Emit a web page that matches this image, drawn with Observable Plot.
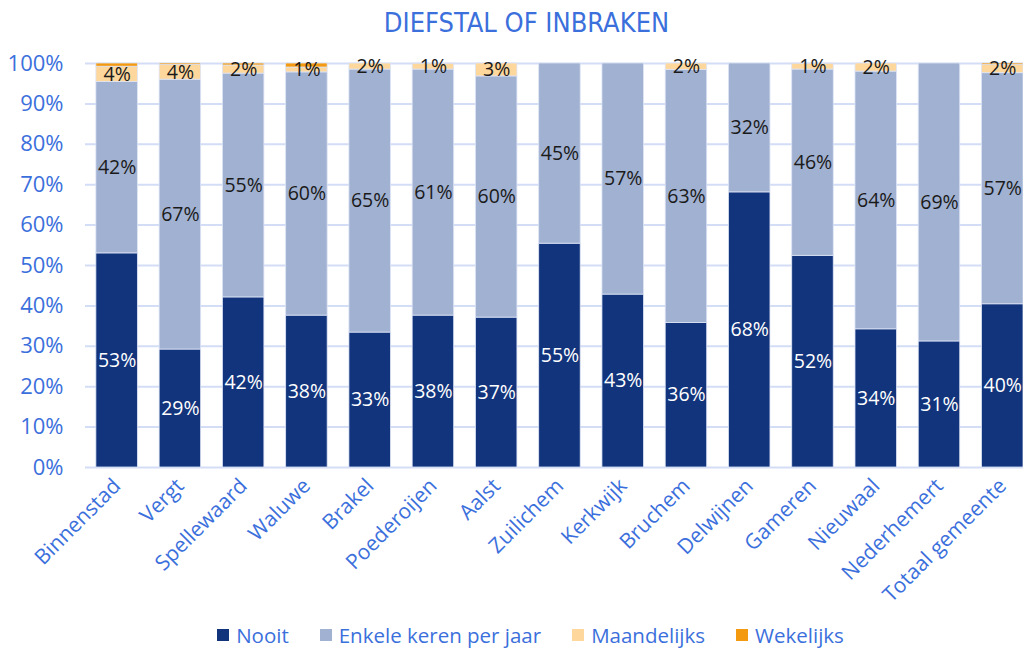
<!DOCTYPE html>
<html>
<head>
<meta charset="utf-8">
<script src="https://cdn.jsdelivr.net/npm/d3@7"></script>
<script src="https://cdn.jsdelivr.net/npm/@observablehq/plot@0.6"></script>
<style>
  html, body { margin: 0; padding: 0; background: #fff; }
  #wrap { width: 1023px; height: 652px; position: relative; overflow: hidden; }
  #title { height: 40px; line-height: 46px; text-align: center; color: #3b70dc; padding-left: 30px;
    font-family: "Liberation Sans Narrow", "DejaVu Sans Condensed", sans-serif; font-size: 27px; }
  #chart svg { display: block; }
  #legend { position: absolute; left: 38px; right: 0; top: 620px; height: 30px;
    display: flex; justify-content: center; align-items: center; gap: 31px;
    font-family: "Open Sans", sans-serif; font-size: 20.5px; line-height: 28px; color: #3b70dc; }
  #legend .item { display: flex; align-items: center; gap: 7px; }
  #legend .sw { width: 12px; height: 12px; display: inline-block; }
</style>
</head>
<body>
<div id="wrap">
  <div id="title">DIEFSTAL OF INBRAKEN</div>
  <div id="chart"></div>
  <div id="legend"></div>
</div>
<script>
const categories = ["Binnenstad", "Vergt", "Spellewaard", "Waluwe", "Brakel", "Poederoijen", "Aalst",
  "Zuilichem", "Kerkwijk", "Bruchem", "Delwijnen", "Gameren", "Nieuwaal", "Nederhemert", "Totaal gemeente"];
const series = ["Nooit", "Enkele keren per jaar", "Maandelijks", "Wekelijks"];
const seriesColors = ["#12347c", "#a1b1d1", "#fdd79c", "#f49a10"];
const nooit       = [53.0, 29.2, 42.1, 37.6, 33.4, 37.6, 37.1, 55.4, 42.8, 35.8, 68.1, 52.4, 34.2, 31.2, 40.4];
const enkele      = [42.4, 66.8, 55.4, 60.2, 65.1, 60.9, 59.7, 44.6, 57.2, 62.6, 31.9, 46.1, 63.8, 68.8, 57.2];
const maandelijks = [3.8, 3.6, 2.0, 1.2, 1.5, 1.4, 3.2, 0, 0, 1.6, 0, 1.4, 2.0, 0, 2.0];
const wekelijks   = [0.8, 0.4, 0.5, 1.0, 0, 0.1, 0, 0, 0, 0, 0, 0.1, 0, 0, 0.4];
const yTicks = [0, 10, 20, 30, 40, 50, 60, 70, 80, 90, 100];
const yTickLabels = ["0%", "10%", "20%", "30%", "40%", "50%", "60%", "70%", "80%", "90%", "100%"];
const labelColors = ["#ffffff", "#1a1a1a", "#1a1a1a", null];

const seriesValues = [nooit, enkele, maandelijks, wekelijks];
const rows = [];
categories.forEach((cat, i) => {
  let base = 0;
  series.forEach((s, k) => {
    const v = seriesValues[k][i];
    rows.push({cat, series: s, k, value: v, y1: base, y2: base + v, mid: base + v / 2});
    base += v;
  });
});
const labelRows = rows.filter(r => labelColors[r.k] && Math.round(r.value) >= 1);

const blue = "#3b70dc";
const font = "'Open Sans', sans-serif";

const chart = Plot.plot({
  width: 1023,
  height: 576,
  marginLeft: 85,
  marginRight: 0,
  marginTop: 23,
  marginBottom: 149,
  style: {fontFamily: font, color: blue, background: "transparent"},
  x: {domain: categories, paddingInner: 0.344, paddingOuter: 0.086, align: 1, round: false, label: null},
  y: {domain: [0, 100], label: null},
  color: {domain: series, range: seriesColors},
  marks: [
    Plot.ruleY(yTicks, {stroke: "#d3ddf6", strokeWidth: 2}),
    Plot.rectY(rows.filter(r => r.value > 0), {x: "cat", y1: "y1", y2: "y2", fill: "series", stroke: "#dde4f6", strokeWidth: 0.8}),
    Plot.text(labelRows, {x: "cat", y: "mid", text: d => Math.round(d.value) + "%",
      fill: d => labelColors[d.k], fontSize: 19.5, fontFamily: font}),
    Plot.axisY({ticks: yTicks, tickFormat: (d) => yTickLabels[yTicks.indexOf(d)], tickSize: 0, tickPadding: 22, fontSize: 22, label: null}),
    Plot.axisX({tickRotate: -45, tickSize: 0, tickPadding: 15, fontSize: 21, label: null})
  ]
});
document.getElementById("chart").appendChild(chart);

const legend = document.getElementById("legend");
series.forEach((s, k) => {
  const item = document.createElement("div");
  item.className = "item";
  const sw = document.createElement("span");
  sw.className = "sw";
  sw.style.background = seriesColors[k];
  const t = document.createElement("span");
  t.textContent = s;
  item.appendChild(sw);
  item.appendChild(t);
  legend.appendChild(item);
});
</script>
</body>
</html>
